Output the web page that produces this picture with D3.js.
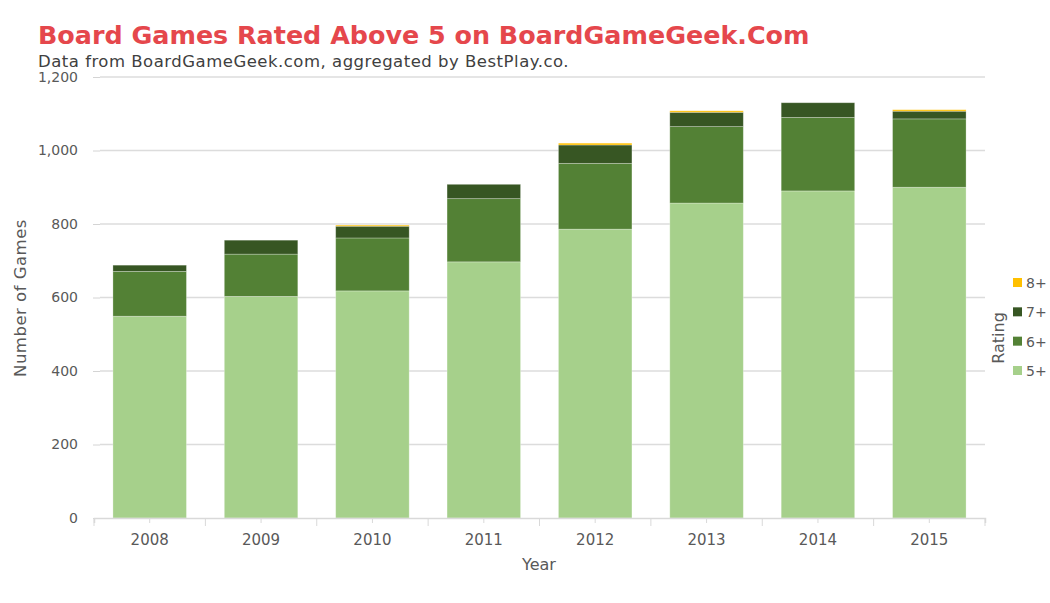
<!DOCTYPE html>
<html>
<head>
<meta charset="utf-8">
<script src="https://cdn.jsdelivr.net/npm/d3@7"></script>
<style>
  body { margin: 0; background: #fff; }
  svg text { font-family: "DejaVu Sans", "Open Sans", sans-serif; }
</style>
</head>
<body>
<svg id="chart" width="1050" height="603"></svg>
<script>
// values
var years = ["2008", "2009", "2010", "2011", "2012", "2013", "2014", "2015"];
var ratings = ["5+", "6+", "7+", "8+"];
var r5 = [549, 603, 618, 697, 786, 857, 890, 900];
var r6 = [122, 115, 144, 172, 179, 208, 200, 186];
var r7 = [17, 38, 32, 39, 50, 39, 40, 21];
var r8 = [0, 0, 3, 0, 5, 4, 0, 4];
var yTicks = [0, 200, 400, 600, 800, 1000, 1200];
var colors = ["#a6d08b", "#538135", "#375623", "#ffc000"];

var svg = d3.select("#chart");
var margin = {left: 94, right: 985, top: 77, bottom: 518};

var rows = years.map(function(y, i) {
    return {year: y, "5+": r5[i], "6+": r6[i], "7+": r7[i], "8+": r8[i]};
});

var x = d3.scaleBand()
    .domain(years)
    .range([margin.left, margin.right])
    .paddingInner(0.34)
    .paddingOuter(0.17);

var y = d3.scaleLinear()
    .domain([0, 1200])
    .range([margin.bottom, margin.top]);

var color = d3.scaleOrdinal().domain(ratings).range(colors);

// gridlines
svg.append("g")
    .selectAll("line")
    .data(yTicks.slice(1))
    .enter().append("line")
    .attr("x1", 100).attr("x2", margin.right)
    .attr("y1", function(d) { return y(d); })
    .attr("y2", function(d) { return y(d); })
    .attr("stroke", "#dcdcdc")
    .attr("stroke-width", 1.3);

// y axis
var yAxis = svg.append("g")
    .attr("transform", "translate(100,0)")
    .call(d3.axisLeft(y).tickValues(yTicks).tickSize(7).tickPadding(15)
        .tickFormat(d3.format(",")));
yAxis.select(".domain").remove();
yAxis.selectAll("line").attr("stroke", "#d4d4d4");
yAxis.selectAll("text").attr("fill", "#595959").style("font-size", "14px");

// stacked bars
var stack = d3.stack().keys(ratings);
var series = stack(rows);

svg.append("g")
    .selectAll("g")
    .data(series)
    .enter().append("g")
    .attr("fill", function(d) { return color(d.key); })
    .selectAll("rect")
    .data(function(d) { return d; })
    .enter().append("rect")
    .attr("x", function(d) { return x(d.data.year); })
    .attr("width", x.bandwidth())
    .attr("y", function(d) { return y(d[1]); })
    .attr("height", function(d) { return y(d[0]) - y(d[1]); })
    .attr("stroke", "#ffffff")
    .attr("stroke-opacity", 0.35)
    .attr("stroke-width", 0.8);

// x axis
var xAxis = svg.append("g")
    .attr("transform", "translate(0," + margin.bottom + ")")
    .call(d3.axisBottom(x).tickSize(5).tickPadding(11));
xAxis.select(".domain").attr("stroke", "#d9d9d9").attr("stroke-width", 1.5);
xAxis.selectAll("line").attr("stroke", "#d9d9d9");
xAxis.selectAll("text").attr("fill", "#595959").style("font-size", "15px");

// boundary ticks between bands
var step = x.step();
var bounds = d3.range(years.length + 1).map(function(i) { return margin.left + i * step; });
svg.append("g")
    .selectAll("line")
    .data(bounds)
    .enter().append("line")
    .attr("x1", function(d) { return d; }).attr("x2", function(d) { return d; })
    .attr("y1", margin.bottom).attr("y2", margin.bottom + 8)
    .attr("stroke", "#d9d9d9");

// titles
svg.append("text")
    .attr("x", 38).attr("y", 44)
    .attr("fill", "#e5474c")
    .style("font-size", "25.4px")
    .style("font-weight", "bold")
    .text("Board Games Rated Above 5 on BoardGameGeek.Com");

svg.append("text")
    .attr("x", 38).attr("y", 67)
    .attr("fill", "#404040")
    .style("font-size", "16.5px")
    .style("letter-spacing", "0.5px")
    .text("Data from BoardGameGeek.com, aggregated by BestPlay.co.");

svg.append("text")
    .attr("x", 539).attr("y", 570)
    .attr("text-anchor", "middle")
    .attr("fill", "#595959")
    .style("font-size", "16px")
    .text("Year");

svg.append("text")
    .attr("transform", "translate(26,298) rotate(-90)")
    .attr("text-anchor", "middle")
    .attr("fill", "#595959")
    .style("font-size", "16.5px")
    .style("letter-spacing", "0.5px")
    .text("Number of Games");

// legend
var legend = svg.append("g");
var legendY = d3.scalePoint().domain(ratings.slice().reverse()).range([283, 371]);

legend.selectAll("rect")
    .data(ratings)
    .enter().append("rect")
    .attr("x", 1013)
    .attr("y", function(d) { return legendY(d) - 5; })
    .attr("width", 9).attr("height", 9)
    .attr("fill", function(d) { return color(d); });

legend.selectAll("text")
    .data(ratings)
    .enter().append("text")
    .attr("x", 1026)
    .attr("y", function(d) { return legendY(d) + 5; })
    .attr("fill", "#595959")
    .style("font-size", "14px")
    .text(function(d) { return d; });

legend.append("text")
    .attr("transform", "translate(1004,338) rotate(-90)")
    .attr("text-anchor", "middle")
    .attr("fill", "#595959")
    .style("font-size", "16px")
    .text("Rating");
</script>
</body>
</html>
